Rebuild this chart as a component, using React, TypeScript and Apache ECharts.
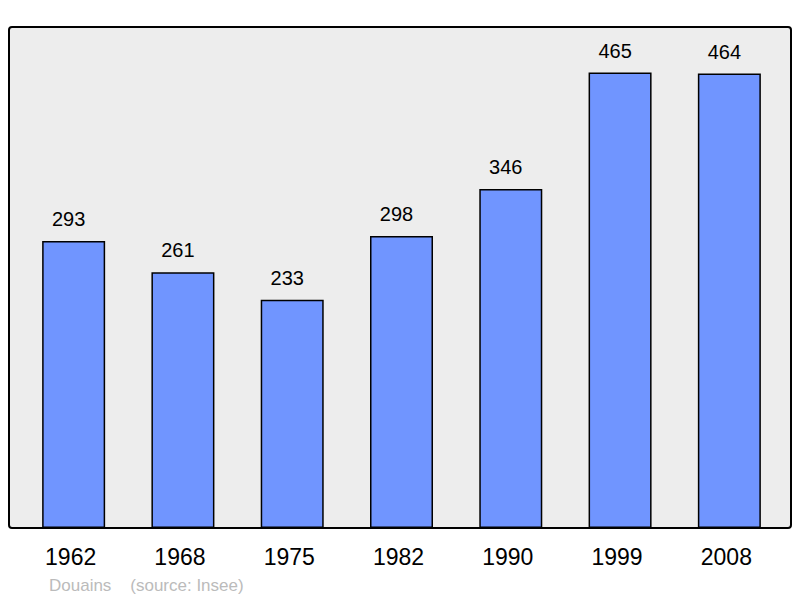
import React, { useEffect, useRef } from "react";
import * as echarts from "echarts";

const categories = ["1962", "1968", "1975", "1982", "1990", "1999", "2008"];
const population = [293, 261, 233, 298, 346, 465, 464];
const footerText = "Douains    (source: Insee)";

export default function App() {
  const ref = useRef<HTMLDivElement>(null);
  useEffect(() => {
    if (!ref.current) return;
    const chart = echarts.init(ref.current, undefined, { renderer: "svg" });
    const maxV = Math.max(...population) * 1.1;
    chart.setOption({
      animation: false,
      graphic: [
        {
          type: "rect",
          z: -10,
          shape: { x: 9, y: 27, width: 782, height: 501, r: 3 },
          style: { fill: "#ededed", stroke: "#000", lineWidth: 2 },
        },
        {
          type: "text",
          left: 49,
          top: 577,
          style: {
            text: footerText,
            fill: "#bbbbbb",
            font: '17px "Liberation Sans", Arial, sans-serif',
          },
        },
      ],
      grid: { left: 19, right: 16, top: 27, bottom: 70, containLabel: false },
      xAxis: {
        type: "category",
        data: categories,
        axisLine: { show: false },
        axisTick: { show: false },
        axisLabel: {
          color: "#000",
          fontSize: 23,
          fontFamily: '"Liberation Sans", Arial, sans-serif',
          margin: 17,
          padding: [0, 6, 0, 0],
        },
      },
      yAxis: {
        type: "value",
        min: 0,
        max: maxV,
        show: false,
        splitLine: { show: false },
      },
      series: [
        {
          type: "bar",
          data: population,
          barWidth: 63,
          itemStyle: { color: "#7095ff", borderColor: "#000", borderWidth: 1.5 },
          label: {
            show: true,
            position: "top",
            distance: 12,
            offset: [-5, 0],
            color: "#000",
            fontSize: 20,
            fontFamily: '"Liberation Sans", Arial, sans-serif',
          },
        },
      ],
    });
    return () => chart.dispose();
  }, []);
  return <div ref={ref} style={{ width: 800, height: 598, position: "absolute", left: 0, top: 0 }} />;
}
